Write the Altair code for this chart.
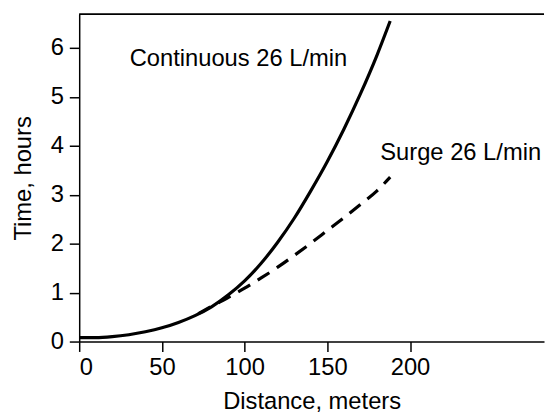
import altair as alt
import pandas as pd

# Continuous 26 L/min (solid)
cont_x = [0, 10, 20, 30, 40, 50, 60, 70, 80, 90, 100, 110, 120, 130, 140, 150, 160, 170, 180, 188]
cont_y = [0.08, 0.08, 0.1, 0.14, 0.2, 0.28, 0.39, 0.53, 0.71, 0.95, 1.24, 1.6, 2.03, 2.52, 3.08, 3.68, 4.34, 5.06, 5.85, 6.55]

# Surge 26 L/min (dashed)
surge_x = [72, 80, 90, 100, 110, 120, 130, 140, 150, 160, 170, 180, 188]
surge_y = [0.57, 0.72, 0.9, 1.09, 1.3, 1.52, 1.76, 2.01, 2.27, 2.53, 2.8, 3.08, 3.36]

label_text = ["Continuous 26 L/min", "Surge 26 L/min"]
label_x = [30.5, 182]
label_y = [5.64, 3.72]

x_ticks = [0, 50, 100, 150, 200]
y_ticks = [0, 1, 2, 3, 4, 5, 6]

FONT = "Liberation Sans"
FS = 24
W, H = 470, 331

cont = pd.DataFrame({"x": cont_x, "y": cont_y})
surge = pd.DataFrame({"x": surge_x, "y": surge_y})
labels = pd.DataFrame({"t": label_text, "x": label_x, "y": label_y})

xs = alt.Scale(domain=[0, 281], nice=False, zero=False)
ys = alt.Scale(domain=[0, 6.69], nice=False)

xaxis = alt.Axis(values=x_ticks, title="Distance, meters", grid=False, tickSize=10,
                 labelPadding=4, titlePadding=11, labelFontSize=FS, titleFontSize=FS,
                 labelFont=FONT, titleFont=FONT, titleFontWeight="normal",
                 domainColor="black", tickColor="black", labelColor="black",
                 titleColor="black", domainWidth=1.5, tickWidth=1.5)
yaxis = alt.Axis(values=y_ticks, title="Time, hours", grid=False, tickSize=10,
                 labelPadding=6, titlePadding=15, labelFontSize=FS, titleFontSize=FS,
                 labelFont=FONT, titleFont=FONT, titleFontWeight="normal",
                 domainColor="black", tickColor="black", labelColor="black",
                 titleColor="black", domainWidth=1.5, tickWidth=1.5)

solid = alt.Chart(cont).mark_line(color="black", strokeWidth=3.2, interpolate="monotone").encode(
    x=alt.X("x:Q", scale=xs, axis=xaxis),
    y=alt.Y("y:Q", scale=ys, axis=yaxis),
)
dashed = alt.Chart(surge).mark_line(color="black", strokeWidth=3.2, strokeDash=[14, 9],
                                    interpolate="monotone").encode(
    x=alt.X("x:Q", scale=xs),
    y=alt.Y("y:Q", scale=ys),
)
text = alt.Chart(labels).mark_text(align="left", baseline="alphabetic", fontSize=FS,
                                   font=FONT, color="black").encode(
    x=alt.X("x:Q", scale=xs),
    y=alt.Y("y:Q", scale=ys),
    text="t:N",
)
top_line = alt.Chart(labels).mark_rule(color="black", strokeWidth=1.5).encode(
    x=alt.value(0), x2=alt.value(W), y=alt.value(0)
)

chart = alt.layer(solid, dashed, text, top_line).properties(
    width=W, height=H,
    padding={"left": 3, "top": 3, "right": 0, "bottom": 0},
).configure_view(stroke=None)

chart.save("out.html", embed_options={"renderer": "svg", "actions": False})
